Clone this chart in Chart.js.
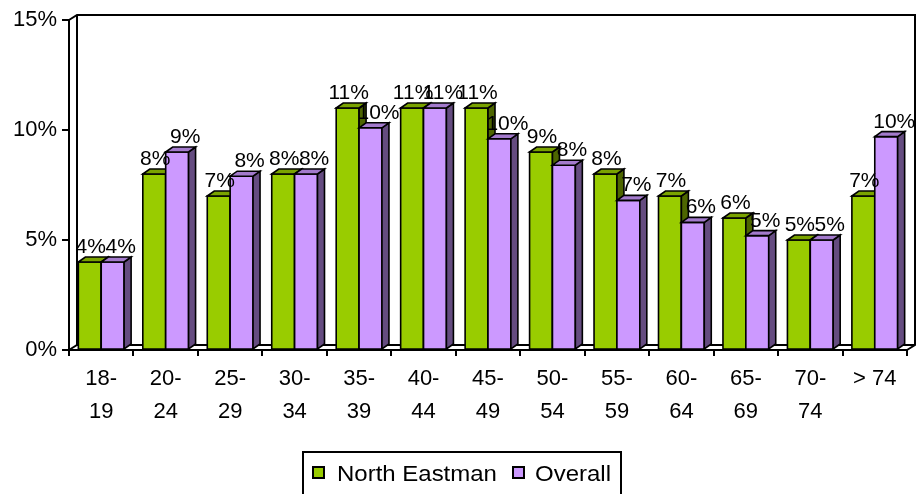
<!DOCTYPE html>
<html>
<head>
<meta charset="utf-8">
<script src="https://cdn.jsdelivr.net/npm/chart.js@4.4.1/dist/chart.umd.min.js"></script>
<style>
  html, body { margin: 0; padding: 0; background: #ffffff; }
  #wrap { width: 917px; height: 494px; }
</style>
</head>
<body>
<div id="wrap"><canvas id="c" width="917" height="494"></canvas></div>
<script>
const categories = [['18-','19'],['20-','24'],['25-','29'],['30-','34'],['35-','39'],['40-','44'],['45-','49'],['50-','54'],['55-','59'],['60-','64'],['65-','69'],['70-','74'],['> 74']];
const northEastman = [4.0, 8.0, 7.0, 8.0, 11.0, 11.0, 11.0, 9.0, 8.0, 7.0, 6.0, 5.0, 7.0];
const overall = [4.0, 9.0, 7.9, 8.0, 10.1, 11.0, 9.6, 8.4, 6.8, 5.8, 5.2, 5.0, 9.7];
const seriesNames = ['North Eastman', 'Overall'];
const yTicks = [0, 5, 10, 15];

const FONT = "'Liberation Sans', Arial, sans-serif";
const frontColors = ['#99CC00', '#CC99FF'];
const sideColors = ['#4D6600', '#654C80'];
const topColors = ['#7AA300', '#A37ACC'];
const DX = 7, DY = 5;      // bar depth
const WDX = 8, WDY = 5;    // wall depth

const bars3d = {
  id: 'bars3d',
  beforeDatasetsDraw(chart) {
    const ctx = chart.ctx;
    const a = chart.chartArea;
    ctx.save();
    ctx.strokeStyle = '#000';
    ctx.lineWidth = 2;
    ctx.lineJoin = 'miter';
    // 3D frame: back wall and floor edges
    ctx.beginPath();
    ctx.moveTo(a.left, a.top); ctx.lineTo(a.left + WDX, a.top - WDY);
    ctx.lineTo(a.right + WDX, a.top - WDY);
    ctx.lineTo(a.right + WDX, a.bottom - WDY);
    ctx.lineTo(a.right, a.bottom);
    ctx.moveTo(a.left + WDX, a.top - WDY); ctx.lineTo(a.left + WDX, a.bottom - WDY);
    ctx.moveTo(a.left, a.bottom); ctx.lineTo(a.left + WDX, a.bottom - WDY);
    ctx.lineTo(a.right + WDX, a.bottom - WDY);
    ctx.stroke();

    const metas = [chart.getDatasetMeta(0), chart.getDatasetMeta(1)];
    const n = chart.data.labels.length;
    ctx.lineWidth = 1.6;
    for (let i = 0; i < n; i++) {
      for (let d = 0; d < 2; d++) {
        const el = metas[d].data[i];
        const l = el.x - el.width / 2, r = el.x + el.width / 2;
        const t = el.y, b = el.base;
        ctx.fillStyle = frontColors[d];
        ctx.beginPath(); ctx.rect(l, t, r - l, b - t); ctx.fill(); ctx.stroke();
        ctx.fillStyle = sideColors[d];
        ctx.beginPath();
        ctx.moveTo(r, t); ctx.lineTo(r + DX, t - DY); ctx.lineTo(r + DX, b - DY); ctx.lineTo(r, b); ctx.closePath();
        ctx.fill(); ctx.stroke();
        ctx.fillStyle = topColors[d];
        ctx.beginPath();
        ctx.moveTo(l, t); ctx.lineTo(l + DX, t - DY); ctx.lineTo(r + DX, t - DY); ctx.lineTo(r, t); ctx.closePath();
        ctx.fill(); ctx.stroke();
      }
    }
    // value labels
    ctx.fillStyle = '#000';
    ctx.font = '21px ' + FONT;
    ctx.textAlign = 'center';
    ctx.textBaseline = 'alphabetic';
    const shifts = [1, 8];
    for (let d = 0; d < 2; d++) {
      const vals = chart.data.datasets[d].data;
      metas[d].data.forEach((el, i) => {
        ctx.fillText(Math.round(vals[i]) + '%', el.x + shifts[d], el.y - 9);
      });
    }
    ctx.restore();
    return false;
  },
  afterDraw(chart) {
    const ctx = chart.ctx;
    ctx.save();
    ctx.strokeStyle = '#000';
    ctx.lineWidth = 2;
    ctx.strokeRect(303, 452, 318, 60);
    ctx.font = '22px ' + FONT;
    ctx.textBaseline = 'middle';
    ctx.textAlign = 'left';
    const boxX = [313, 513], textX = [337, 535];
    for (let d = 0; d < 2; d++) {
      ctx.fillStyle = frontColors[d];
      ctx.fillRect(boxX[d], 467, 11, 11);
      ctx.strokeRect(boxX[d], 467, 11, 11);
      ctx.fillStyle = '#000';
      ctx.save();
      ctx.translate(textX[d], 475);
      ctx.scale(1.09, 1);
      ctx.fillText(chart.data.datasets[d].label, 0, 0);
      ctx.restore();
    }
    ctx.restore();
  }
};

new Chart(document.getElementById('c'), {
  type: 'bar',
  data: {
    labels: categories,
    datasets: [
      { label: seriesNames[0], data: northEastman, backgroundColor: frontColors[0] },
      { label: seriesNames[1], data: overall, backgroundColor: frontColors[1] }
    ]
  },
  options: {
    responsive: false,
    animation: false,
    devicePixelRatio: 1,
    categoryPercentage: 0.71,
    barPercentage: 1.0,
    layout: { padding: { top: 20, right: 10, left: 0, bottom: 0 } },
    plugins: { legend: { display: false }, tooltip: { enabled: false } },
    scales: {
      x: {
        offset: true,
        grid: { offset: true, drawOnChartArea: false, drawTicks: true, tickLength: 6, color: '#000', lineWidth: 2 },
        border: { display: true, color: '#000', width: 2 },
        ticks: { color: '#000', font: { family: FONT, size: 22, lineHeight: 1.5 }, padding: 6, maxRotation: 0, autoSkip: false },
        afterFit(scale) { scale.height = 144; }
      },
      y: {
        min: 0, max: 15,
        afterBuildTicks(scale) { scale.ticks = yTicks.map(v => ({ value: v })); },
        grid: { drawOnChartArea: false, drawTicks: true, tickLength: 7, color: '#000', lineWidth: 2 },
        border: { display: true, color: '#000', width: 2 },
        ticks: { color: '#000', font: { family: FONT, size: 22 }, padding: 5, callback: v => v + '%' },
        afterFit(scale) { scale.width = 69; }
      }
    }
  },
  plugins: [bars3d]
});
</script>
</body>
</html>
